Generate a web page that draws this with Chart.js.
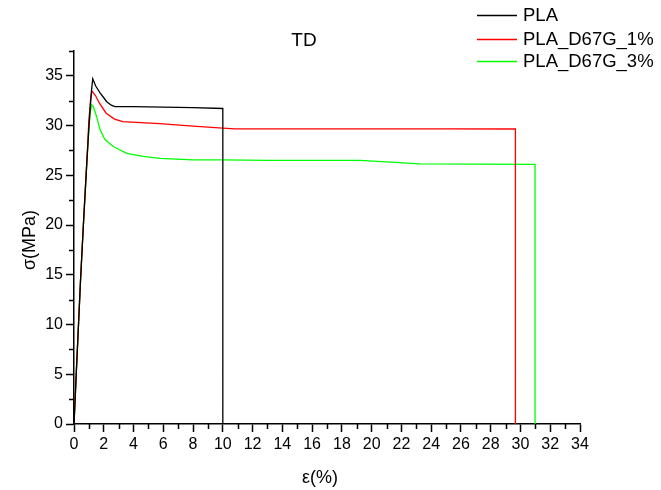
<!DOCTYPE html>
<html>
<head>
<meta charset="utf-8">
<script src="https://cdn.jsdelivr.net/npm/chart.js@4"></script>
<style>
  html, body { margin: 0; padding: 0; background: #fff; }
  #wrap { width: 661px; height: 490px; }
</style>
</head>
<body>
<div id="wrap"><canvas id="c" width="661" height="490"></canvas></div>
<script>
// Tensile curves, transverse direction: strain (%) vs stress (MPa)
const seriesNames = ['PLA', 'PLA_D67G_1%', 'PLA_D67G_3%'];
const seriesColors = ['#000000', '#ff0000', '#00ff00'];

const plaStrain = [0, 0.15, 0.44, 0.63, 0.85, 1.05, 1.18, 1.26, 1.45, 1.75, 2.0, 2.2, 2.5, 2.75, 4, 6, 8, 10, 10];
const plaStress = [0, 5, 14.5, 20, 26, 31, 33.6, 34.7, 34.0, 33.3, 32.8, 32.4, 32.05, 31.9, 31.9, 31.85, 31.8, 31.72, 0];

const pla1Strain = [0, 0.15, 0.44, 0.63, 0.85, 1.0, 1.12, 1.2, 1.45, 1.71, 2.16, 2.72, 3.28, 5.75, 8, 10, 10.8, 15, 20, 25, 29.66, 29.66];
const pla1Stress = [0, 5, 14.5, 20, 26, 30.5, 32.7, 33.5, 33.0, 32.25, 31.25, 30.65, 30.4, 30.2, 29.95, 29.75, 29.68, 29.68, 29.68, 29.67, 29.66, 0];

const pla3Strain = [0, 0.15, 0.44, 0.63, 0.85, 1.0, 1.1, 1.18, 1.3, 1.52, 1.75, 2.08, 2.64, 3.54, 4.65, 5.78, 8, 10, 13, 16, 19.2, 21, 23.25, 27, 30.98, 30.98];
const pla3Stress = [0, 5, 14.5, 20, 26, 29.8, 31.3, 32.1, 31.9, 30.9, 29.6, 28.6, 27.9, 27.2, 26.9, 26.7, 26.55, 26.55, 26.5, 26.5, 26.5, 26.35, 26.15, 26.12, 26.1, 0];

const xTickValues = [0, 2, 4, 6, 8, 10, 12, 14, 16, 18, 20, 22, 24, 26, 28, 30, 32, 34];
const yTickValues = [0, 5, 10, 15, 20, 25, 30, 35];
const xMinorValues = [1, 3, 5, 7, 9, 11, 13, 15, 17, 19, 21, 23, 25, 27, 29, 31, 33];
const yMinorValues = [2.5, 7.5, 12.5, 17.5, 22.5, 27.5, 32.5, 37.5];

const titleText = 'TD';
const xTitle = 'ε(%)';
const yTitle = 'σ(MPa)';

const FONT = '"Liberation Sans", Arial, sans-serif';

function pts(xs, ys) { return xs.map((x, i) => ({ x: x, y: ys[i] })); }

const allStrain = [plaStrain, pla1Strain, pla3Strain];
const allStress = [plaStress, pla1Stress, pla3Stress];

const datasets = seriesNames.map((name, i) => ({
  label: name,
  data: pts(allStrain[i], allStress[i]),
  borderColor: seriesColors[i],
  backgroundColor: seriesColors[i],
  borderWidth: 1.3,
  pointRadius: 0,
  showLine: true,
  tension: 0,
  fill: false
}));

// Minor ticks, titles and the legend box
const decorations = {
  id: 'decorations',
  afterDraw(chart) {
    const ctx = chart.ctx;
    const xs = chart.scales.x, ys = chart.scales.y;
    const ca = chart.chartArea;
    ctx.save();
    ctx.strokeStyle = '#000';
    ctx.lineWidth = 1.5;
    ctx.beginPath();
    xMinorValues.forEach(v => {
      const px = Math.round(xs.getPixelForValue(v)) + 0.5;
      ctx.moveTo(px, ca.bottom);
      ctx.lineTo(px, ca.bottom + 5);
    });
    yMinorValues.forEach(v => {
      const py = Math.round(ys.getPixelForValue(v)) + 0.5;
      ctx.moveTo(ca.left, py);
      ctx.lineTo(ca.left - 5, py);
    });
    ctx.stroke();
    ctx.restore();

    ctx.save();
    ctx.fillStyle = '#000';
    ctx.textBaseline = 'middle';
    ctx.textAlign = 'center';
    ctx.font = '19px ' + FONT;
    ctx.fillText(titleText, 304, 41);

    ctx.font = '18px ' + FONT;
    ctx.fillText(xTitle, 320, 478);

    ctx.translate(30, 240);
    ctx.rotate(-Math.PI / 2);
    ctx.fillText(yTitle, 0, 0);
    ctx.restore();

    // legend
    const rows = [15, 39, 61];
    seriesNames.forEach((name, i) => {
      ctx.save();
      ctx.strokeStyle = seriesColors[i];
      ctx.lineWidth = 1.5;
      ctx.beginPath();
      ctx.moveTo(477, rows[i] + 0.5);
      ctx.lineTo(517, rows[i] + 0.5);
      ctx.stroke();
      ctx.restore();
      ctx.save();
      ctx.fillStyle = '#000';
      ctx.textAlign = 'left';
      ctx.textBaseline = 'middle';
      ctx.font = '18.5px ' + FONT;
      ctx.fillText(name, 523, rows[i] + 1);
      ctx.restore();
    });
  }
};

new Chart(document.getElementById('c'), {
  type: 'scatter',
  data: { datasets: datasets },
  options: {
    responsive: false,
    animation: false,
    events: [],
    layout: { padding: { top: 51, right: 81, left: 0, bottom: 0 } },
    plugins: { legend: { display: false }, title: { display: false }, tooltip: { enabled: false } },
    scales: {
      x: {
        type: 'linear',
        min: 0, max: 34,
        afterBuildTicks: s => { s.ticks = xTickValues.map(v => ({ value: v })); },
        afterFit: s => { s.height = 66; },
        ticks: { color: '#000', font: { family: FONT, size: 16 }, padding: 3, maxRotation: 0, autoSkip: false, callback: v => String(v) },
        grid: { drawOnChartArea: false, drawTicks: true, tickLength: 8, tickColor: '#000', tickWidth: 1.5 },
        border: { display: true, color: '#000', width: 1.5 }
      },
      y: {
        type: 'linear',
        min: 0, max: 37.5,
        afterBuildTicks: s => { s.ticks = yTickValues.map(v => ({ value: v })); },
        afterFit: s => { s.width = 74; },
        ticks: { color: '#000', font: { family: FONT, size: 16 }, padding: 3, autoSkip: false, callback: v => String(v) },
        grid: { drawOnChartArea: false, drawTicks: true, tickLength: 8, tickColor: '#000', tickWidth: 1.5 },
        border: { display: true, color: '#000', width: 1.5 }
      }
    }
  },
  plugins: [decorations]
});
</script>
</body>
</html>
